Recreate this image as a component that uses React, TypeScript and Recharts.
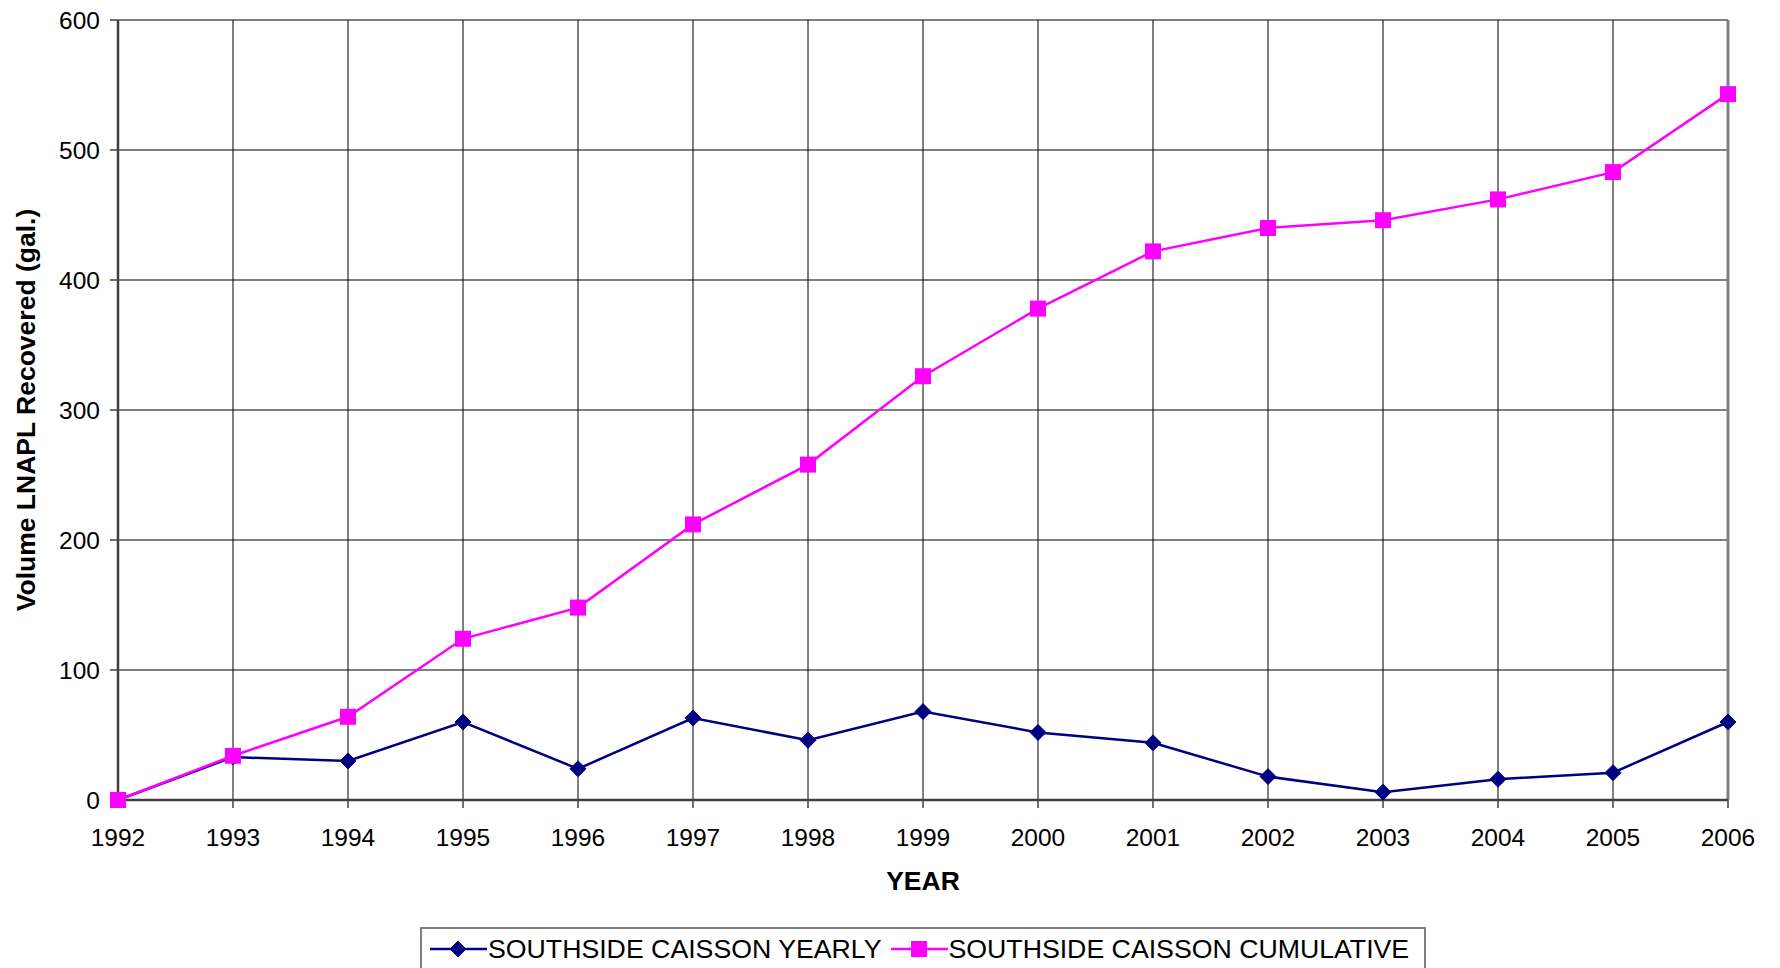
import React from "react";
import {
  CartesianGrid,
  Legend,
  Line,
  LineChart,
  ReferenceLine,
  XAxis,
  YAxis,
} from "recharts";

// 年ごとの回収量（読み取り値）
const years = [
  "1992", "1993", "1994", "1995", "1996", "1997", "1998", "1999",
  "2000", "2001", "2002", "2003", "2004", "2005", "2006",
];
const yearly = [0, 33, 30, 60, 24, 63, 46, 68, 52, 44, 18, 6, 16, 21, 60];
const cumulative = [0, 34, 64, 124, 148, 212, 258, 326, 378, 422, 440, 446, 462, 483, 543];
const yTicks = [0, 100, 200, 300, 400, 500, 600];

const NAVY = "#000080";
const MAGENTA = "#FF00FF";
const FONT = "'Liberation Sans', Arial, sans-serif";

const data = years.map((year, i) => ({
  year,
  yearly: yearly[i],
  cumulative: cumulative[i],
}));

function Diamond({ cx, cy, size = 8 }: { cx?: number; cy?: number; size?: number }) {
  if (cx == null || cy == null) return null;
  const s = size;
  return (
    <polygon
      points={`${cx},${cy - s} ${cx + s},${cy} ${cx},${cy + s} ${cx - s},${cy}`}
      fill={NAVY}
      stroke={NAVY}
    />
  );
}

function Square({ cx, cy, size = 8 }: { cx?: number; cy?: number; size?: number }) {
  if (cx == null || cy == null) return null;
  return <rect x={cx - size} y={cy - size} width={size * 2} height={size * 2} fill={MAGENTA} />;
}

function LegendBox() {
  const item = (kind: "diamond" | "square", color: string, text: string) => (
    <div style={{ display: "flex", alignItems: "center" }}>
      <svg width={57} height={24} style={{ display: "block" }}>
        <line x1={0} y1={12} x2={57} y2={12} stroke={color} strokeWidth={2.5} />
        {kind === "diamond" ? <Diamond cx={28} cy={12} size={8} /> : <Square cx={28} cy={12} size={8} />}
      </svg>
      <span style={{ marginLeft: 1, fontSize: 26.7, color: "#000", whiteSpace: "nowrap" }}>{text}</span>
    </div>
  );
  return (
    <div
      style={{
        display: "flex",
        alignItems: "center",
        gap: 9,
        boxSizing: "border-box",
        width: 1006,
        height: 52,
        padding: "4px 8px 12px 8px",
        border: "2px solid #808080",
        background: "#fff",
        fontFamily: FONT,
      }}
    >
      {item("diamond", NAVY, "SOUTHSIDE CAISSON YEARLY")}
      {item("square", MAGENTA, "SOUTHSIDE CAISSON CUMULATIVE")}
    </div>
  );
}

export default function App() {
  return (
    <div style={{ position: "absolute", left: 0, top: 0, width: 1780, height: 968, background: "#fff" }}>
      <LineChart
        width={1780}
        height={968}
        data={data}
        margin={{ top: 20, right: 52, bottom: 0, left: 0 }}
        style={{ fontFamily: FONT }}
      >
        <CartesianGrid horizontal vertical={false} stroke="#808080" strokeWidth={2} />
        <CartesianGrid horizontal={false} vertical stroke="#000" strokeWidth={1} />
        <XAxis
          dataKey="year"
          height={168}
          interval={0}
          tickSize={8}
          tickMargin={21}
          tick={{ fill: "#000", fontSize: 24.5 }}
          axisLine={{ stroke: "#404040", strokeWidth: 2.5 }}
          tickLine={{ stroke: "#404040", strokeWidth: 1.5 }}
          label={{
            value: "YEAR",
            position: "insideTop",
            offset: 71,
            style: { fontWeight: "bold", fontSize: 26.5, fill: "#000" },
          }}
        />
        <YAxis
          width={118}
          domain={[0, 600]}
          ticks={yTicks}
          interval={0}
          tickSize={8}
          tickMargin={10}
          tick={{ fill: "#000", fontSize: 24.5 }}
          axisLine={{ stroke: "#404040", strokeWidth: 2.5 }}
          tickLine={{ stroke: "#404040", strokeWidth: 1.5 }}
          label={{
            value: "Volume LNAPL Recovered (gal.)",
            angle: -90,
            position: "insideLeft",
            offset: 26,
            style: { textAnchor: "middle", fontWeight: "bold", fontSize: 26.5, fill: "#000" },
          }}
        />
        <ReferenceLine x="2006" stroke="#808080" strokeWidth={3} />
        <Legend
          layout="vertical"
          align="center"
          verticalAlign="middle"
          wrapperStyle={{ left: 420, top: 927, width: 1006 }}
          content={() => <LegendBox />}
        />
        <Line
          type="linear"
          dataKey="yearly"
          stroke={NAVY}
          strokeWidth={2.5}
          dot={(p: any) => <Diamond key={`d${p.index}`} cx={p.cx} cy={p.cy} />}
          activeDot={false}
          isAnimationActive={false}
        />
        <Line
          type="linear"
          dataKey="cumulative"
          stroke={MAGENTA}
          strokeWidth={2.5}
          dot={(p: any) => <Square key={`s${p.index}`} cx={p.cx} cy={p.cy} />}
          activeDot={false}
          isAnimationActive={false}
        />
      </LineChart>
    </div>
  );
}
